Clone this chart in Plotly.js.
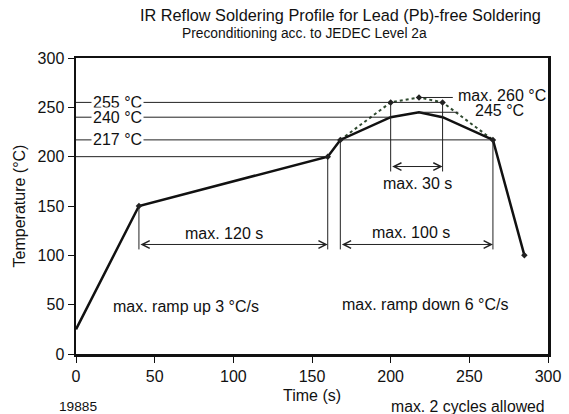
<!DOCTYPE html>
<html><head><meta charset="utf-8">
<script src="https://cdn.plot.ly/plotly-3.0.1.min.js"></script>
<style>html,body{margin:0;padding:0;background:#fff}#c{width:569px;height:414px}</style>
</head><body><div id="c"></div>
<script>
// Data
const solidTime = [0, 40, 160, 168, 200, 218, 233, 265, 285];
const solidTemp = [25, 150, 200, 217, 240, 245, 240, 217, 100];
const dotTime = [168, 200, 218, 233, 265];
const dotTemp = [217, 255, 260, 255, 217];
const markTime = [40, 160, 168, 200, 218, 233, 265, 285];
const markTemp = [150, 200, 217, 255, 260, 255, 217, 100];
const refTemps = [255, 240, 217, 200];
const refEnds = [233, 200, 265, 160];
const refLabels = ["255 °C", "240 °C", "217 °C", ""];
const xTicks = [0, 50, 100, 150, 200, 250, 300];
const yTicks = [0, 50, 100, 150, 200, 250, 300];

const F = "Liberation Sans, Arial, Helvetica, sans-serif";
const TXT = "#111";
const shapes = [];
const annotations = [];
const thin = {color: "#222", width: 1};

refTemps.forEach((t, i) => {
  shapes.push({type: "line", xref: "x", yref: "y", x0: 0, x1: refEnds[i], y0: t, y1: t, line: thin});
  if (refLabels[i]) annotations.push({x: 26.4, y: t, xref: "x", yref: "y", text: refLabels[i], showarrow: false,
    bgcolor: "#fff", borderpad: 1, font: {family: F, size: 16, color: TXT}});
});
// 260 and 245 leaders
shapes.push({type: "line", x0: 218, x1: 239.5, y0: 260, y1: 260, xref: "x", yref: "y", line: thin});
shapes.push({type: "line", x0: 218, x1: 243, y0: 245, y1: 245, xref: "x", yref: "y", line: thin});
annotations.push({x: 241.3, y: 262, xref: "x", yref: "y", xanchor: "left", text: "max. 260 °C", showarrow: false, font: {family: F, size: 16, color: TXT}});
annotations.push({x: 252.2, y: 246.5, xref: "x", yref: "y", xanchor: "left", text: "245 °C", showarrow: false, font: {family: F, size: 16, color: TXT}});

// vertical drop lines
const vlines = [[40, 150, 106], [160, 200, 106], [168, 217, 106], [265, 217, 106], [200, 255, 185], [233, 255, 185]];
vlines.forEach(v => shapes.push({type: "line", xref: "x", yref: "y", x0: v[0], x1: v[0], y0: v[1], y1: v[2], line: thin}));

// dimension arrows
const dims = [[40, 160, 111, "max. 120 s", 94, 122], [168, 265, 111, "max. 100 s", 213, 123], [200, 233, 190, "max. 30 s", 217, 173]];
dims.forEach(d => {
  annotations.push({x: d[1], y: d[2], ax: d[0], ay: d[2], xref: "x", yref: "y", axref: "x", ayref: "y", text: "",
    showarrow: true, arrowhead: 5, startarrowhead: 5, arrowside: "end+start", arrowsize: 1.5, startarrowsize: 1.5, arrowwidth: 1, arrowcolor: "#222"});
  annotations.push({x: d[4], y: d[5], xref: "x", yref: "y", text: d[3], showarrow: false, font: {family: F, size: 16, color: TXT}});
});
annotations.push({x: 70, y: 48, xref: "x", yref: "y", text: "max. ramp up 3 °C/s", showarrow: false, font: {family: F, size: 16, color: TXT}});
annotations.push({x: 222, y: 50, xref: "x", yref: "y", text: "max. ramp down 6 °C/s", showarrow: false, font: {family: F, size: 16, color: TXT}});
// titles (paper coords: plot spans x 76..548, y 58..354)
annotations.push({x: (340 - 76) / 472, y: (354 - 15) / 296, xref: "paper", yref: "paper", yanchor: "middle", text: "IR Reflow Soldering Profile for Lead (Pb)-free Soldering", showarrow: false, font: {family: F, size: 16.3, color: TXT}});
annotations.push({x: (304.5 - 76) / 472, y: (354 - 33.5) / 296, xref: "paper", yref: "paper", yanchor: "middle", text: "Preconditioning acc. to JEDEC Level 2a", showarrow: false, font: {family: F, size: 13.8, color: TXT}});
annotations.push({x: (57 - 76) / 472, y: (354 - 407) / 296, xref: "paper", yref: "paper", xanchor: "left", yanchor: "middle", text: "19885", showarrow: false, font: {family: F, size: 13.7, color: TXT}});
annotations.push({x: (547 - 76) / 472, y: (354 - 406) / 296, xref: "paper", yref: "paper", xanchor: "right", yanchor: "middle", text: "max. 2 cycles allowed", showarrow: false, font: {family: F, size: 15.8, color: TXT}});

const traces = [
  {x: dotTime, y: dotTemp, mode: "lines", line: {color: "#2f4a2f", width: 2, dash: "dot"}, hoverinfo: "none"},
  {x: solidTime, y: solidTemp, mode: "lines", line: {color: "#111", width: 2.5}, hoverinfo: "none"},
  {x: markTime, y: markTemp, mode: "markers", marker: {symbol: "diamond", size: 5, color: "#222"}, hoverinfo: "none"}
];

const layout = {
  width: 569, height: 414,
  margin: {l: 76, r: 21, t: 58, b: 60},
  paper_bgcolor: "#fff", plot_bgcolor: "#fff",
  showlegend: false,
  font: {family: F, size: 16, color: TXT},
  xaxis: {range: [0, 300], tickvals: xTicks, ticktext: xTicks.map(String), showgrid: false, zeroline: false,
    showline: true, mirror: true, linecolor: "#111", linewidth: 2.5, ticks: "outside", ticklen: 6, tickcolor: "#111", tickwidth: 1,
    tickfont: {family: F, size: 16}, title: {text: "Time (s)", font: {family: F, size: 16}, standoff: 6}},
  yaxis: {range: [0, 300], tickvals: yTicks, ticktext: yTicks.map(String), showgrid: false, zeroline: false,
    showline: true, mirror: true, linecolor: "#111", linewidth: 2.5, ticks: "outside", ticklen: 6, tickcolor: "#111", tickwidth: 1,
    tickfont: {family: F, size: 16}, title: {text: "Temperature (°C)", font: {family: F, size: 16}, standoff: 8}},
  shapes: shapes, annotations: annotations
};
Plotly.newPlot("c", traces, layout, {displayModeBar: false, staticPlot: true});
</script></body></html>
